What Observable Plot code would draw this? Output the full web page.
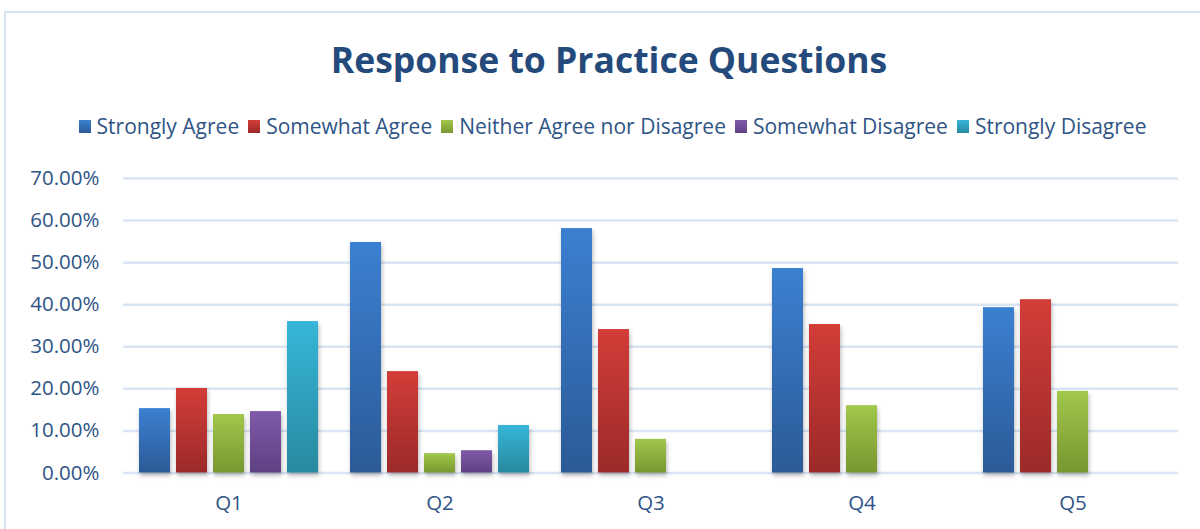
<!DOCTYPE html>
<html>
<head>
<meta charset="utf-8">
<script src="https://cdn.jsdelivr.net/npm/d3@7"></script>
<script src="https://cdn.jsdelivr.net/npm/@observablehq/plot@0.6"></script>
<style>
  html, body { margin: 0; padding: 0; background: #fff; }
  #wrap { position: relative; width: 1200px; height: 529px; overflow: hidden; font-family: "Open Sans", Lato, sans-serif; }
  #frame { position: absolute; left: 4px; top: 11px; width: 1300px; height: 600px; border-top: 2px solid #d6e3f3; border-left: 2px solid #d6e3f3; box-sizing: border-box; }
  #title { position: absolute; left: 18px; right: 0; top: 34px; text-align: center; font-size: 35.5px; font-weight: 700; color: #24497b; line-height: 50px; }
  #legend { position: absolute; left: 25px; right: 0; top: 111px; height: 30px; display: flex; justify-content: center; align-items: center; font-size: 21px; color: #2f5486; white-space: nowrap; }
  #legend .item { display: flex; align-items: center; margin-right: 9px; }
  #legend .item:last-child { margin-right: 0; }
  #legend .sw { width: 12px; height: 13px; margin-right: 6px; }
  #chart { position: absolute; left: 0; top: 160px; }
  #defs { position: absolute; width: 0; height: 0; }
</style>
</head>
<body>
<div id="wrap">
  <div id="frame"></div>
  <div id="title">Response to Practice Questions</div>
  <div id="legend"></div>
  <div id="chart"></div>
</div>
<svg id="defs" width="0" height="0"></svg>
<script>
const questions = ["Q1", "Q2", "Q3", "Q4", "Q5"];
const series = ["Strongly Agree", "Somewhat Agree", "Neither Agree nor Disagree", "Somewhat Disagree", "Strongly Disagree"];
const stronglyAgree    = [15.3, 54.8, 58.1, 48.6, 39.3];
const somewhatAgree    = [20.1, 24.1, 34.1, 35.3, 41.2];
const neitherAgree     = [13.9, 4.6, 8.0, 16.0, 19.4];
const somewhatDisagree = [14.6, 5.3, null, null, null];
const stronglyDisagree = [36.0, 11.3, null, null, null];
const yTicks = [0, 10, 20, 30, 40, 50, 60, 70];
const gradTop    = ["#3b80d1", "#d33d38", "#a1c74b", "#7f5ba9", "#37b6d9"];
const gradBottom = ["#2c5a97", "#9b2a29", "#779730", "#5e4083", "#27899f"];

const seriesValues = [stronglyAgree, somewhatAgree, neitherAgree, somewhatDisagree, stronglyDisagree];
const data = [];
questions.forEach((q, i) => {
  series.forEach((s, j) => {
    const v = seriesValues[j][i];
    if (v != null) data.push({q, s, v});
  });
});

// gradients
const NS = "http://www.w3.org/2000/svg";
const defsSvg = document.getElementById("defs");
const defs = document.createElementNS(NS, "defs");
series.forEach((s, j) => {
  const g = document.createElementNS(NS, "linearGradient");
  g.setAttribute("id", "grad" + j);
  g.setAttribute("x1", "0"); g.setAttribute("y1", "0");
  g.setAttribute("x2", "0"); g.setAttribute("y2", "1");
  const s1 = document.createElementNS(NS, "stop");
  s1.setAttribute("offset", "0"); s1.setAttribute("stop-color", gradTop[j]);
  const s2 = document.createElementNS(NS, "stop");
  s2.setAttribute("offset", "1"); s2.setAttribute("stop-color", gradBottom[j]);
  g.appendChild(s1); g.appendChild(s2);
  defs.appendChild(g);
});
defsSvg.appendChild(defs);
const fills = series.map((s, j) => `url(#grad${j})`);

// legend
const legend = document.getElementById("legend");
series.forEach((s, j) => {
  const item = document.createElement("div");
  item.className = "item";
  const sw = document.createElement("div");
  sw.className = "sw";
  sw.style.background = `linear-gradient(${gradTop[j]}, ${gradBottom[j]})`;
  const t = document.createElement("span");
  t.textContent = s;
  item.appendChild(sw); item.appendChild(t);
  legend.appendChild(item);
});

const chart = Plot.plot({
  width: 1200,
  height: 369,
  marginTop: 18,
  marginBottom: 56.5,
  marginLeft: 121,
  marginRight: 20,
  style: { fontFamily: "'Open Sans', Lato, sans-serif", fontSize: "20.5px", color: "#2f5486", background: "transparent" },
  fx: { domain: questions, paddingInner: 0, paddingOuter: 0, label: null, tickSize: 0, tickPadding: 22 },
  x: { domain: series, paddingInner: 0.158, paddingOuter: 0.362, axis: null },
  y: { domain: [0, 70], ticks: yTicks, tickFormat: d => d.toFixed(2) + "%", tickSize: 0, tickPadding: 24, label: null },
  color: { domain: series, range: fills },
  marks: [
    Plot.ruleY(yTicks, { y: d => d, stroke: "#d9e5f4", strokeWidth: 2.5 }),
    Plot.barY(data, { fx: "q", x: "s", y: "v", fill: "s" })
  ]
});
chart.querySelectorAll('g[aria-label="bar"]').forEach(g => {
  g.style.filter = "drop-shadow(1px 3px 2px rgba(0,0,0,0.28))";
});
document.getElementById("chart").appendChild(chart);
</script>
</body>
</html>
